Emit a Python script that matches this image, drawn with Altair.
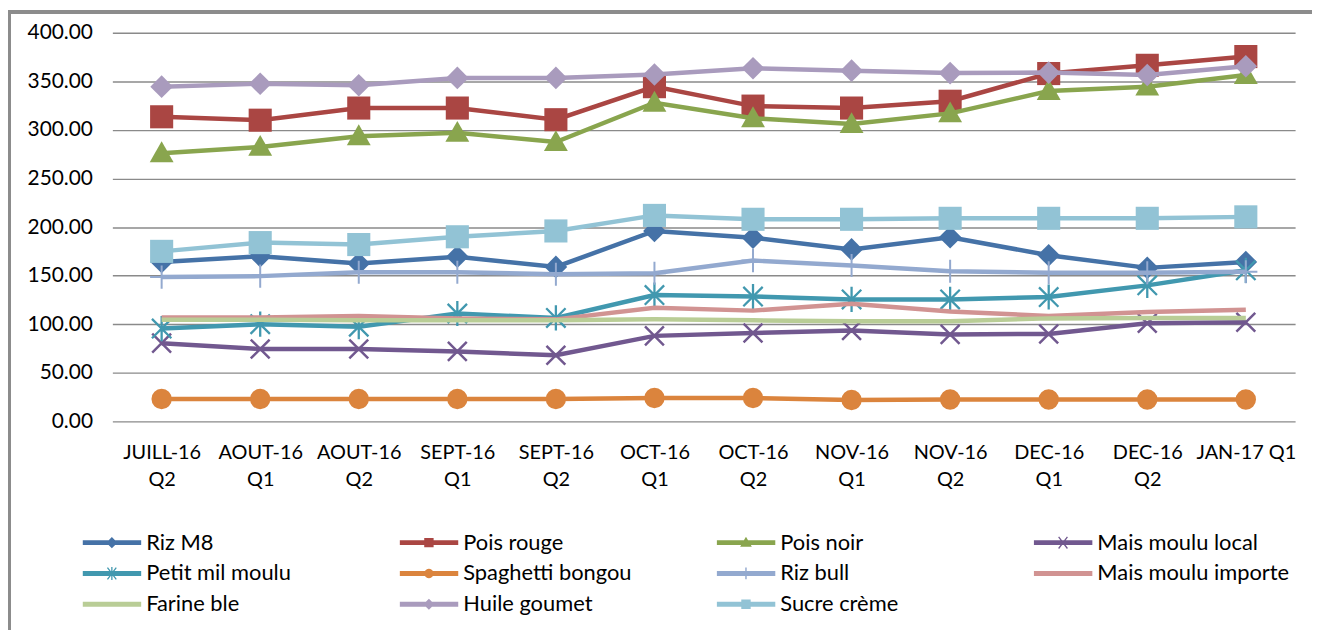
import math
import altair as alt
import pandas as pd

categories = ["JUILL-16 Q2", "AOUT-16 Q1", "AOUT-16 Q2", "SEPT-16 Q1", "SEPT-16 Q2", "OCT-16 Q1",
              "OCT-16 Q2", "NOV-16 Q1", "NOV-16 Q2", "DEC-16 Q1", "DEC-16 Q2", "JAN-17 Q1"]

series_names = ["Riz M8", "Pois rouge", "Pois noir", "Mais moulu local", "Petit mil moulu",
                "Spaghetti bongou", "Riz bull", "Mais moulu importe", "Farine ble",
                "Huile goumet", "Sucre crème"]

riz_m8 = [164, 170, 162.5, 169.5, 159, 196, 189, 177, 189.5, 171, 158, 164]
pois_rouge = [313.5, 310, 322.5, 322.5, 310.5, 344.5, 324.5, 322.5, 329.5, 358, 366.5, 375.5]
pois_noir = [276, 282.5, 293.5, 297, 287.5, 328, 312, 306, 317, 340, 344.5, 356.5]
mais_local = [80.5, 74.5, 74.5, 72, 68, 88, 91, 93.5, 89.5, 90, 101, 102]
petit_mil = [95.5, 100, 97.5, 111, 106.5, 130, 128.5, 125.5, 125.5, 128, 140, 155.5]
spaghetti = [23, 23, 23, 23, 23, 24, 24, 22, 22.5, 22.5, 22.5, 22.5]
riz_bull = [148.5, 149.5, 153.5, 153.5, 151.5, 152.5, 165.5, 160.5, 154.5, 153, 153, 154]
mais_importe = [107, 107, 108.5, 106, 105, 117, 114, 121, 113, 108.5, 112.5, 115]
farine_ble = [104.5, 104.5, 104, 104, 104, 105, 104, 103, 103, 106, 106.5, 106.5]
huile = [344.5, 347.5, 346, 353.5, 353.5, 357, 363.5, 361, 358.5, 359, 356.5, 365.5]
sucre = [175, 184, 182, 190, 196, 212, 208, 208, 209, 209, 209, 210.5]

all_values = [riz_m8, pois_rouge, pois_noir, mais_local, petit_mil, spaghetti,
              riz_bull, mais_importe, farine_ble, huile, sucre]

colors = ["#4572A7", "#AA4643", "#89A54E", "#71588F", "#4198AF", "#DB843D",
          "#93A9CF", "#D19392", "#B9CD96", "#A99BBD", "#92C3D5"]

marker_kinds = ["diamond", "square", "triangle", "x", "asterisk", "circle",
                "plus", None, None, "diamond", "square"]

rows = []
for name, vals in zip(series_names, all_values):
    for c, v in zip(categories, vals):
        rows.append({"cat": c, "series": name, "value": v})
df = pd.DataFrame(rows)

FONT = "Lato"

# ---------- marker definitions for the plot ----------
plot_markers = {
    "diamond": dict(shape="M0,-1L1,0L0,1L-1,0Z", size=520, filled=True, strokeWidth=0),
    "square": dict(shape="square", size=540, filled=True, strokeWidth=0),
    "triangle": dict(shape="M0,-1L1,0.75L-1,0.75Z", size=576, filled=True, strokeWidth=0),
    "x": dict(shape="M-1,-1L1,1M1,-1L-1,1", size=360, filled=False, strokeWidth=2.5),
    "asterisk": dict(shape="M-1,-1L1,1M1,-1L-1,1M0,-1.3L0,1.3", size=380, filled=False, strokeWidth=2.3),
    "circle": dict(shape="circle", size=420, filled=True, strokeWidth=0),
    "plus": dict(shape="M0,-1L0,1M-1,0L1,0", size=540, filled=False, strokeWidth=2),
}


# ---------- legend symbol paths (line + marker, in a -1..1 box) ----------
def fmt(v):
    return ("%.4f" % v).rstrip("0").rstrip(".")


def poly(pts):
    area = 0
    for i in range(len(pts)):
        x1, y1 = pts[i]
        x2, y2 = pts[(i + 1) % len(pts)]
        area += x1 * y2 - x2 * y1
    if area > 0:
        pts = pts[::-1]
    return "M" + "L".join(fmt(x) + "," + fmt(y) for x, y in pts) + "Z"


def seg(x1, y1, x2, y2, w):
    dx, dy = x2 - x1, y2 - y1
    L = math.hypot(dx, dy)
    nx, ny = -dy / L * w, dx / L * w
    return poly([(x1 + nx, y1 + ny), (x2 + nx, y2 + ny), (x2 - nx, y2 - ny), (x1 - nx, y1 - ny)])


LW = 0.085
M = 0.19


def legend_path(kind):
    p = seg(-1, 0, 1, 0, LW)
    if kind == "diamond":
        p += poly([(0, -M), (M, 0), (0, M), (-M, 0)])
    elif kind == "square":
        p += poly([(-0.16, -0.16), (0.16, -0.16), (0.16, 0.16), (-0.16, 0.16)])
    elif kind == "triangle":
        p += poly([(0, -0.2), (0.2, 0.14), (-0.2, 0.14)])
    elif kind == "x":
        p += seg(-0.15, -0.2, 0.15, 0.2, 0.022) + seg(0.15, -0.2, -0.15, 0.2, 0.022)
    elif kind == "asterisk":
        p += (seg(-0.15, -0.2, 0.15, 0.2, 0.022) + seg(0.15, -0.2, -0.15, 0.2, 0.022)
              + seg(0, -0.22, 0, 0.22, 0.022))
    elif kind == "circle":
        p += poly([(0.16 * math.cos(2 * math.pi * k / 20), 0.16 * math.sin(2 * math.pi * k / 20))
                   for k in range(20)])
    elif kind == "plus":
        p += seg(0, -0.2, 0, 0.2, 0.025)
    return p


legend_paths = [legend_path(k) for k in marker_kinds]

# ---------- encodings ----------
X = alt.X("cat:O", sort=categories, title=None,
          axis=alt.Axis(labelExpr="datum.value == 'JAN-17 Q1' ? datum.value : split(datum.value, ' ')",
                        labelAngle=0, labelFont=FONT, labelFontSize=20, labelColor="#000000",
                        labelLineHeight=28, labelPadding=21, ticks=False, domain=False, grid=False,
                        labelFontWeight="normal"))
Y = alt.Y("value:Q", title=None,
          scale=alt.Scale(domain=[0, 400], nice=False),
          axis=alt.Axis(values=[0, 50, 100, 150, 200, 250, 300, 350, 400], format=".2f",
                        labelFont=FONT, labelFontSize=21, labelColor="#000000", labelPadding=20,
                        ticks=False, domain=False, grid=True, gridColor="#8a8a8a", gridWidth=1.4,
                        labelFontWeight="normal"))

layers = []

# frame lines (decoration)
layers.append(alt.Chart(df).mark_rule(color="#8c8c8c", strokeWidth=2.5).encode(
    x=alt.value(-104), y=alt.value(-21), y2=alt.value(620)))
layers.append(alt.Chart(df).mark_rule(color="#8c8c8c", strokeWidth=2.5).encode(
    x=alt.value(-105), x2=alt.value(1220), y=alt.value(-21)))

for name, col, kind in zip(series_names, colors, marker_kinds):
    base = alt.Chart(df).transform_filter(alt.datum.series == name)
    layers.append(base.mark_line(color=col, strokeWidth=4.5).encode(x=X, y=Y))
    if kind:
        opts = plot_markers[kind]
        layers.append(base.mark_point(color=col, opacity=1, **opts).encode(x=X, y=Y))

# legend-only layer (no data drawn)
legend_layer = alt.Chart(df).transform_filter("false").mark_point(filled=True, opacity=1, size=3481).encode(
    x=X, y=Y,
    color=alt.Color("series:N", scale=alt.Scale(domain=series_names, range=colors),
                    legend=alt.Legend(title=None, orient="none", legendX=-30, legendY=500,
                                      columns=4, direction="horizontal", symbolSize=3481,
                                      symbolStrokeWidth=0, clipHeight=26, rowPadding=5,
                                      columnPadding=61, gridAlign="all", labelOffset=5,
                                      labelLimit=400, labelFont=FONT, labelFontSize=22,
                                      labelColor="#000000", padding=0)),
    shape=alt.Shape("series:N", scale=alt.Scale(domain=series_names, range=legend_paths)),
)
layers.append(legend_layer)

chart = alt.layer(*layers).properties(
    width=1190, height=391,
    padding={"left": 105, "top": 23, "right": 17, "bottom": 208},
    autosize=alt.AutoSizeParams(type="none"),
    background="white",
).configure_view(stroke=None)

chart.save("out.html", embed_options={"renderer": "svg", "actions": False})
